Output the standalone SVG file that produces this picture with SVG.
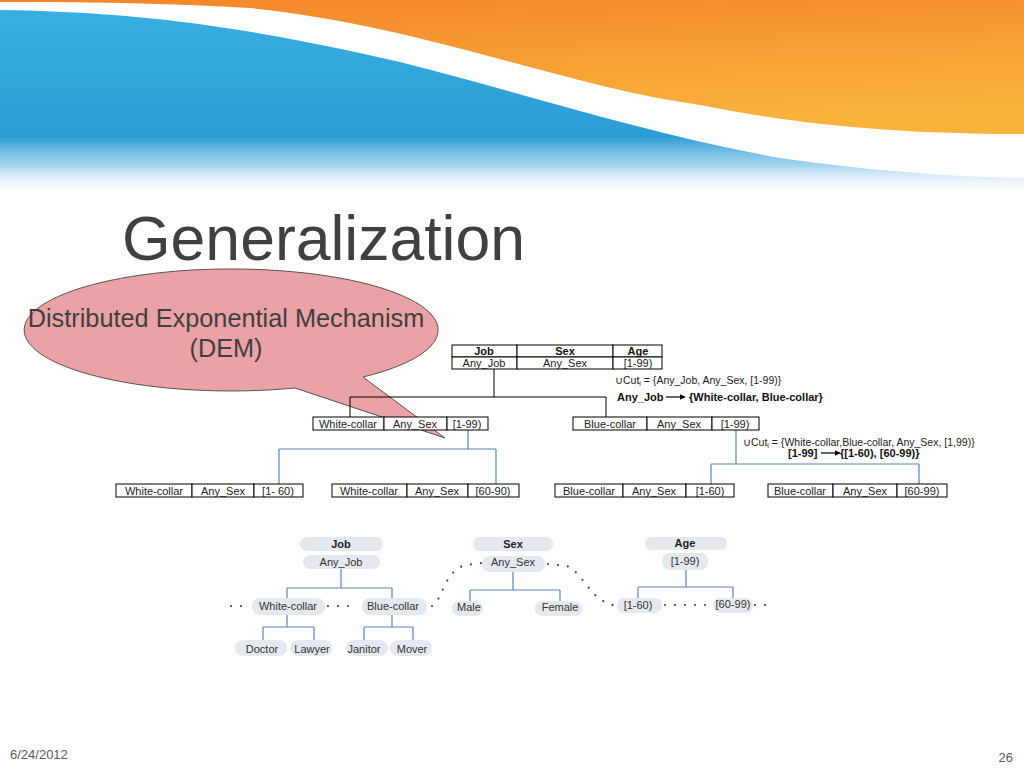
<svg xmlns="http://www.w3.org/2000/svg" width="1024" height="768" viewBox="0 0 1024 768">
<defs>
<linearGradient id="og" x1="0" y1="0" x2="0.3" y2="1">
<stop offset="0" stop-color="#f5852a"/>
<stop offset="1" stop-color="#f9b23c"/>
</linearGradient>
<linearGradient id="bg" gradientUnits="userSpaceOnUse" x1="0" y1="0" x2="0" y2="195">
<stop offset="0" stop-color="#3aafe1"/>
<stop offset="0.7" stop-color="#2c9dd5"/>
<stop offset="0.85" stop-color="#7fc2e6" stop-opacity="0.7"/>
<stop offset="1" stop-color="#ffffff" stop-opacity="0"/>
</linearGradient>
<marker id="ah" viewBox="0 0 10 10" refX="9" refY="5" markerWidth="6" markerHeight="6" orient="auto" markerUnits="userSpaceOnUse">
<path d="M0,0 L10,5 L0,10 Z" fill="#000"/>
</marker>
<style>
.cell{fill:#fff;stroke:#000;stroke-width:1}
.t{font-family:"Liberation Sans",Arial,sans-serif;font-size:11px;fill:#222;text-anchor:middle}
.tb{font-family:"Liberation Sans",Arial,sans-serif;font-size:11px;fill:#111;font-weight:bold;text-anchor:middle}
.note{font-family:"Liberation Sans",Arial,sans-serif;font-size:10.5px;fill:#222}
.noteb{font-family:"Liberation Sans",Arial,sans-serif;font-size:11px;fill:#111;font-weight:bold}
.pill{fill:#e4e8ef}
.pt{font-family:"Liberation Sans",Arial,sans-serif;font-size:11px;fill:#333;text-anchor:middle}
.ptb{font-family:"Liberation Sans",Arial,sans-serif;font-size:11px;fill:#222;font-weight:bold;text-anchor:middle}
.kl{fill:none;stroke:#000;stroke-width:1}
.bl{fill:none;stroke:#5a84bb;stroke-width:1.2}
.dot{fill:none;stroke:#444;stroke-width:2.2;stroke-linecap:round;stroke-dasharray:0 10}
</style>
</defs>
<rect width="1024" height="768" fill="#fff"/>
<g id="header">
<path d="M0,0 H1024 V134 C900,134 800,125 700,105 C560,85 420,25 250,8 C150,2 50,2 0,2 Z" fill="url(#og)"/>
<path d="M0,10 C150,12 260,30 400,62 C520,92 650,135 780,158 C880,172 960,177 1024,178 V195 H0 Z" fill="url(#bg)"/>
</g>
<text x="122" y="260" font-family="Liberation Sans, Arial, sans-serif" font-size="62.5" fill="#404040">Generalization</text>
<g id="callout">
<path d="M295,388 A207,61 0 1 1 363,377 L445,438 Z" fill="#eaa2a7" stroke="#555" stroke-width="1"/>
<text x="226" y="327" font-family="Liberation Sans, Arial, sans-serif" font-size="25.3" fill="#404040" text-anchor="middle">Distributed Exponential Mechanism</text>
<text x="226" y="357" font-family="Liberation Sans, Arial, sans-serif" font-size="25.3" fill="#404040" text-anchor="middle">(DEM)</text>
</g>
<g id="connectors">
<path class="kl" d="M494,369 V397 M350,397 H606 M350,397 V417 M606,397 V417"/>
<path class="bl" d="M468,430 V449 M279,449 H496 M279,449 V484 M496,449 V484"/>
<path class="bl" d="M736,430 V464 M711,464 H919 M711,464 V484 M919,464 V484"/>
<path class="bl" d="M341,569 V588 M287,588 H392 M287,588 V598 M392,588 V598"/>
<path class="bl" d="M287,615 V627 M263,627 H314 M263,627 V640 M314,627 V640"/>
<path class="bl" d="M392,615 V627 M364,627 H413 M364,627 V640 M413,627 V640"/>
<path class="bl" d="M513,572 V590 M470,590 H560 M470,590 V601 M560,590 V601"/>
<path class="bl" d="M686,570 V587 M638,587 H733 M638,587 V598 M733,587 V598"/>
<path class="dot" d="M231,606 H251"/>
<path class="dot" d="M328,606 H358"/>
<path class="dot" d="M432,606 C442,602 444,570 466,565 L482,563"/>
<path class="dot" d="M548,564 L567,566 C585,575 590,600 613,605"/>
<path class="dot" d="M665,605 H708"/>
<path class="dot" d="M755,605 H775"/>
</g>
<g id="root">
<rect class="cell" x="452" y="345" width="65" height="12"/>
<rect class="cell" x="517" y="345" width="96" height="12"/>
<rect class="cell" x="613" y="345" width="49" height="12"/>
<rect class="cell" x="452" y="357" width="65" height="12"/>
<rect class="cell" x="517" y="357" width="96" height="12"/>
<rect class="cell" x="613" y="357" width="49" height="12"/>
<text class="tb" x="484" y="355">Job</text>
<text class="tb" x="565" y="355">Sex</text>
<text class="tb" x="638" y="355">Age</text>
<text class="t" x="484" y="367">Any_Job</text>
<text class="t" x="565" y="367">Any_Sex</text>
<text class="t" x="638" y="367">[1-99)</text>
</g>
<g id="note1">
<text class="note" x="615" y="384">∪Cut<tspan font-size="7" dy="2">i</tspan><tspan dy="-2"> = {Any_Job, Any_Sex, [1-99)}</tspan></text>
<text class="noteb" x="617" y="401">Any_Job</text>
<path d="M666,397 H685" stroke="#000" stroke-width="1.2" marker-end="url(#ah)"/>
<text class="noteb" x="689" y="401">{White-collar, Blue-collar}</text>
</g>
<g id="wc">
<rect class="cell" x="313" y="417" width="71" height="13"/>
<rect class="cell" x="384" y="417" width="63" height="13"/>
<rect class="cell" x="447" y="417" width="41" height="13"/>
<text class="t" x="348" y="428">White-collar</text>
<text class="t" x="415" y="428">Any_Sex</text>
<text class="t" x="467" y="428">[1-99)</text>
</g>
<g id="bc">
<rect class="cell" x="573" y="417" width="74" height="13"/>
<rect class="cell" x="647" y="417" width="65" height="13"/>
<rect class="cell" x="712" y="417" width="47" height="13"/>
<text class="t" x="610" y="428">Blue-collar</text>
<text class="t" x="679" y="428">Any_Sex</text>
<text class="t" x="735" y="428">[1-99)</text>
</g>
<g id="note2">
<text class="note" x="743" y="446">∪Cut<tspan font-size="7" dy="2">i</tspan><tspan dy="-2"> = {White-collar,Blue-collar, Any_Sex, [1,99)}</tspan></text>
<text class="noteb" x="788" y="457">[1-99]</text>
<path d="M821,453 H840" stroke="#000" stroke-width="1.2" marker-end="url(#ah)"/>
<text class="noteb" x="840" y="457">{[1-60), [60-99)}</text>
</g>
<g id="wc1">
<rect class="cell" x="116" y="484" width="76" height="13"/>
<rect class="cell" x="192" y="484" width="62" height="13"/>
<rect class="cell" x="254" y="484" width="49" height="13"/>
<text class="t" x="154" y="495">White-collar</text>
<text class="t" x="223" y="495">Any_Sex</text>
<text class="t" x="278" y="495">[1- 60)</text>
</g>
<g id="wc2">
<rect class="cell" x="332" y="484" width="75" height="13"/>
<rect class="cell" x="407" y="484" width="61" height="13"/>
<rect class="cell" x="468" y="484" width="51" height="13"/>
<text class="t" x="369" y="495">White-collar</text>
<text class="t" x="437" y="495">Any_Sex</text>
<text class="t" x="493" y="495">[60-90)</text>
</g>
<g id="bc1">
<rect class="cell" x="555" y="484" width="68" height="13"/>
<rect class="cell" x="623" y="484" width="63" height="13"/>
<rect class="cell" x="686" y="484" width="48" height="13"/>
<text class="t" x="589" y="495">Blue-collar</text>
<text class="t" x="654" y="495">Any_Sex</text>
<text class="t" x="710" y="495">[1-60)</text>
</g>
<g id="bc2">
<rect class="cell" x="768" y="484" width="65" height="13"/>
<rect class="cell" x="833" y="484" width="64" height="13"/>
<rect class="cell" x="897" y="484" width="50" height="13"/>
<text class="t" x="800" y="495">Blue-collar</text>
<text class="t" x="865" y="495">Any_Sex</text>
<text class="t" x="922" y="495">[60-99)</text>
</g>
<g id="h-job"><rect class="pill" x="300" y="537" width="83" height="14" rx="7"/><text class="ptb" x="341" y="548">Job</text></g>
<g id="h-anyjob"><rect class="pill" x="303" y="555" width="77" height="14" rx="7"/><text class="pt" x="341" y="566">Any_Job</text></g>
<g id="h-wc"><rect class="pill" x="252" y="598" width="73" height="17" rx="8"/><text class="pt" x="288" y="610">White-collar</text></g>
<g id="h-bc"><rect class="pill" x="362" y="598" width="65" height="17" rx="8"/><text class="pt" x="393" y="610">Blue-collar</text></g>
<g id="h-doctor"><rect class="pill" x="235" y="640" width="52" height="16" rx="8"/><text class="pt" x="262" y="653">Doctor</text></g>
<g id="h-lawyer"><rect class="pill" x="290" y="640" width="42" height="16" rx="8"/><text class="pt" x="312" y="653">Lawyer</text></g>
<g id="h-janitor"><rect class="pill" x="346" y="640" width="42" height="16" rx="8"/><text class="pt" x="364" y="653">Janitor</text></g>
<g id="h-mover"><rect class="pill" x="390" y="640" width="42" height="16" rx="8"/><text class="pt" x="412" y="653">Mover</text></g>
<g id="h-sex"><rect class="pill" x="473" y="537" width="80" height="14" rx="7"/><text class="ptb" x="513" y="548">Sex</text></g>
<g id="h-anysex"><rect class="pill" x="482" y="556" width="63" height="16" rx="8"/><text class="pt" x="513" y="566">Any_Sex</text></g>
<g id="h-male"><rect class="pill" x="452" y="601" width="31" height="15" rx="7"/><text class="pt" x="469" y="611">Male</text></g>
<g id="h-female"><rect class="pill" x="535" y="601" width="47" height="15" rx="7"/><text class="pt" x="560" y="611">Female</text></g>
<g id="h-age"><rect class="pill" x="645" y="537" width="82" height="13" rx="6"/><text class="ptb" x="685" y="547">Age</text></g>
<g id="h-199"><rect class="pill" x="662" y="553" width="46" height="17" rx="8"/><text class="pt" x="685" y="565">[1-99)</text></g>
<g id="h-160"><rect class="pill" x="617" y="598" width="45" height="15" rx="7"/><text class="pt" x="638" y="609">[1-60)</text></g>
<g id="h-6099"><rect class="pill" x="713" y="598" width="40" height="15" rx="7"/><text class="pt" x="733" y="608">[60-99)</text></g>
<text x="10" y="759" font-family="Liberation Sans, Arial, sans-serif" font-size="13" fill="#595959">6/24/2012</text>
<text x="1013" y="762" font-family="Liberation Sans, Arial, sans-serif" font-size="13" fill="#595959" text-anchor="end">26</text>
</svg>
